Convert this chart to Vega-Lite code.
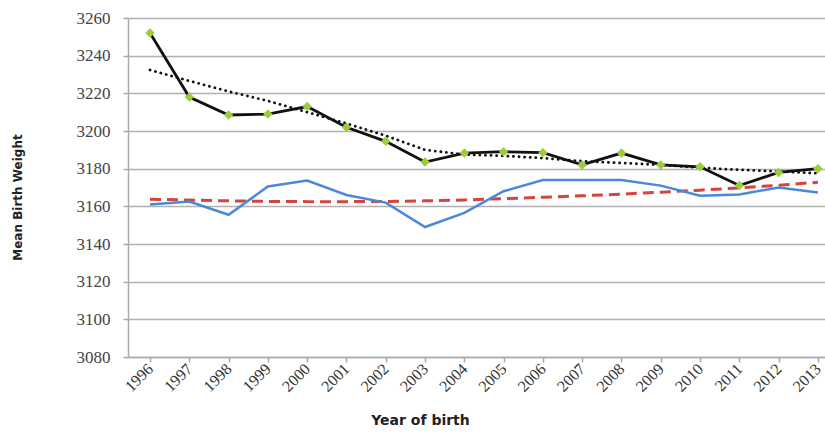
{
  "$schema": "https://vega.github.io/schema/vega-lite/v6.json",
  "autosize": "none",
  "width": 697,
  "height": 339,
  "padding": {"left": 128, "top": 18, "right": 0, "bottom": 78},
  "background": "white",
  "config": {"view": {"stroke": null}},
  "datasets": {
    "observed": [
      {"year": 1996, "weight": 3252},
      {"year": 1997, "weight": 3218},
      {"year": 1998, "weight": 3208.5},
      {"year": 1999, "weight": 3209},
      {"year": 2000, "weight": 3213},
      {"year": 2001, "weight": 3202},
      {"year": 2002, "weight": 3194.5},
      {"year": 2003, "weight": 3183.5},
      {"year": 2004, "weight": 3188.3},
      {"year": 2005, "weight": 3189},
      {"year": 2006, "weight": 3188.5},
      {"year": 2007, "weight": 3182},
      {"year": 2008, "weight": 3188.3},
      {"year": 2009, "weight": 3182},
      {"year": 2010, "weight": 3181},
      {"year": 2011, "weight": 3171},
      {"year": 2012, "weight": 3178},
      {"year": 2013, "weight": 3180}
    ],
    "blue": [
      {"year": 1996, "weight": 3161},
      {"year": 1997, "weight": 3162.5},
      {"year": 1998, "weight": 3155.5},
      {"year": 1999, "weight": 3170.5},
      {"year": 2000, "weight": 3173.7},
      {"year": 2001, "weight": 3166},
      {"year": 2002, "weight": 3162},
      {"year": 2003, "weight": 3149},
      {"year": 2004, "weight": 3156.5},
      {"year": 2005, "weight": 3168},
      {"year": 2006, "weight": 3174},
      {"year": 2007, "weight": 3174},
      {"year": 2008, "weight": 3174},
      {"year": 2009, "weight": 3171},
      {"year": 2010, "weight": 3165.6},
      {"year": 2011, "weight": 3166.3},
      {"year": 2012, "weight": 3170},
      {"year": 2013, "weight": 3167.3}
    ],
    "redtrend": [
      {"year": 1996, "weight": 3163.8},
      {"year": 1997, "weight": 3163.3},
      {"year": 1998, "weight": 3162.9},
      {"year": 1999, "weight": 3162.6},
      {"year": 2000, "weight": 3162.5},
      {"year": 2001, "weight": 3162.5},
      {"year": 2002, "weight": 3162.6},
      {"year": 2003, "weight": 3162.9},
      {"year": 2004, "weight": 3163.4},
      {"year": 2005, "weight": 3164.1},
      {"year": 2006, "weight": 3164.8},
      {"year": 2007, "weight": 3165.6},
      {"year": 2008, "weight": 3166.5},
      {"year": 2009, "weight": 3167.5},
      {"year": 2010, "weight": 3168.6},
      {"year": 2011, "weight": 3169.8},
      {"year": 2012, "weight": 3171.2},
      {"year": 2013, "weight": 3172.8}
    ],
    "blacktrend": [
      {"year": 1996, "weight": 3232.4},
      {"year": 1997, "weight": 3226.6},
      {"year": 1998, "weight": 3221},
      {"year": 1999, "weight": 3216},
      {"year": 2000, "weight": 3210},
      {"year": 2001, "weight": 3204},
      {"year": 2002, "weight": 3197.5},
      {"year": 2003, "weight": 3190},
      {"year": 2004, "weight": 3187.5},
      {"year": 2005, "weight": 3186.8},
      {"year": 2006, "weight": 3185.6},
      {"year": 2007, "weight": 3184},
      {"year": 2008, "weight": 3183},
      {"year": 2009, "weight": 3182},
      {"year": 2010, "weight": 3180.5},
      {"year": 2011, "weight": 3179.4},
      {"year": 2012, "weight": 3178.5},
      {"year": 2013, "weight": 3177.6}
    ]
  },
  "encoding": {
    "x": {
      "field": "year",
      "type": "quantitative",
      "scale": {"domain": [1995.44, 2013.18], "nice": false, "zero": false},
      "axis": {
        "values": [1996,1997,1998,1999,2000,2001,2002,2003,2004,2005,2006,2007,2008,2009,2010,2011,2012,2013],
        "format": "d",
        "grid": false,
        "title": "Year of  birth",
        "titleFont": "DejaVu Sans",
        "titleFontSize": 14,
        "titleFontWeight": "bold",
        "titleColor": "#222",
        "titleX": 292,
        "titleY": 56,
        "titleAnchor": "middle",
        "labelAngle": -45,
        "labelAlign": "right",
        "labelBaseline": "middle",
        "labelFont": "Liberation Serif",
        "labelFontSize": 16,
        "labelColor": "#333",
        "labelPadding": 4,
        "labelFlush": false,
        "labelOverlap": false,
        "domainColor": "#aaaaaa",
        "domainWidth": 1.5,
        "tickColor": "#aaaaaa",
        "tickSize": 5,
        "tickWidth": 1.5
      }
    },
    "y": {
      "field": "weight",
      "type": "quantitative",
      "scale": {"domain": [3080, 3260], "nice": false, "zero": false},
      "axis": {
        "values": [3080,3100,3120,3140,3160,3180,3200,3220,3240,3260],
        "format": "d",
        "grid": true,
        "gridColor": "#b0b0b0",
        "gridWidth": 1.5,
        "title": "Mean Birth Weight",
        "titleFont": "DejaVu Sans",
        "titleFontSize": 12,
        "titleFontWeight": "bold",
        "titleColor": "#222",
        "titleX": -104,
        "titleY": 179,
        "labelFont": "Liberation Serif",
        "labelFontSize": 17,
        "labelColor": "#444",
        "labelPadding": 13,
        "domainColor": "#aaaaaa",
        "domainWidth": 1.5,
        "tickColor": "#aaaaaa",
        "tickSize": 5,
        "tickWidth": 1.5
      }
    }
  },
  "layer": [
    {
      "data": {"name": "redtrend"},
      "mark": {"type": "line", "color": "#d6453d", "strokeWidth": 3, "strokeDash": [11, 6]}
    },
    {
      "data": {"name": "blue"},
      "mark": {"type": "line", "color": "#4a88dc", "strokeWidth": 2.5}
    },
    {
      "data": {"name": "blacktrend"},
      "mark": {"type": "line", "color": "#111", "strokeWidth": 2.8, "strokeDash": [0.1, 5.5], "strokeCap": "round"}
    },
    {
      "data": {"name": "observed"},
      "mark": {"type": "line", "color": "#111", "strokeWidth": 2.8}
    },
    {
      "data": {"name": "observed"},
      "mark": {"type": "point", "shape": "diamond", "filled": true, "color": "#9ccc3c", "size": 90, "opacity": 1}
    }
  ]
}
